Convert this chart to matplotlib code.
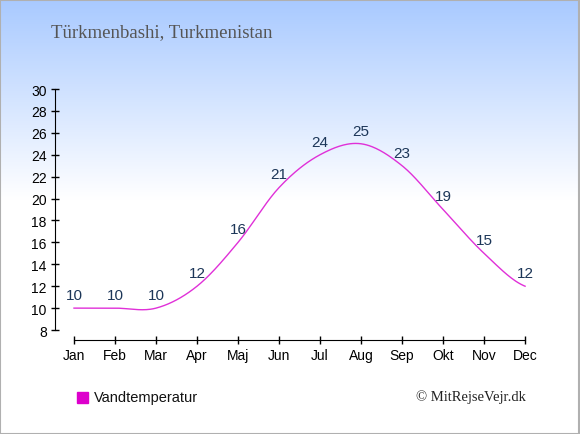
import numpy as np
import matplotlib
matplotlib.use("Agg")
import matplotlib.pyplot as plt
from matplotlib.patches import Rectangle

# data
months = ['Jan', 'Feb', 'Mar', 'Apr', 'Maj', 'Jun', 'Jul', 'Aug', 'Sep', 'Okt', 'Nov', 'Dec']
water_temp = [10, 10, 10, 12, 16, 21, 24, 25, 23, 19, 15, 12]
y_ticks = [8, 10, 12, 14, 16, 18, 20, 22, 24, 26, 28, 30]
title = 'Türkmenbashi, Turkmenistan'
legend_label = 'Vandtemperatur'
credit = '© MitRejseVejr.dk'

line_col = '#e030d8'
label_col = '#1c3658'
W, H = 580, 435


def catmull_rom(x, y, n=30):
    # smooth curve through the points (rendering only)
    x = np.asarray(x, float)
    y = np.asarray(y, float)
    px = np.concatenate([[2 * x[0] - x[1]], x, [2 * x[-1] - x[-2]]])
    py = np.concatenate([[y[0]], y, [y[-1]]])
    xs, ys = [], []
    for i in range(1, len(px) - 2):
        t = np.linspace(0, 1, n, endpoint=False)
        for p, out in ((px, xs), (py, ys)):
            p0, p1, p2, p3 = p[i - 1], p[i], p[i + 1], p[i + 2]
            out.append(0.5 * ((2 * p1) + (-p0 + p2) * t
                              + (2 * p0 - 5 * p1 + 4 * p2 - p3) * t ** 2
                              + (-p0 + 3 * p1 - 3 * p2 + p3) * t ** 3))
    xs.append([x[-1]])
    ys.append([y[-1]])
    return np.concatenate(xs), np.concatenate(ys)


fig = plt.figure(figsize=(W / 100, H / 100), dpi=100)

# background gradient
bg = fig.add_axes([0, 0, 1, 1])
bg.set_axis_off()
rows = np.linspace(0, 1, 400)
frac = np.clip(rows / 0.46, 0, 1)
top = np.array([0.66, 0.79, 1.0])
grad = top[None, :] * (1 - frac[:, None]) + np.ones(3)[None, :] * frac[:, None]
bg.imshow(grad[:, None, :], aspect='auto', extent=[0, 1, 0, 1], origin='upper')
bg.set_xlim(0, 1)
bg.set_ylim(0, 1)
bg.add_patch(Rectangle((0.0008, 0.001), 0.9975, 0.997, fill=False, edgecolor='#b0b0b0', lw=1.5))

ax = fig.add_axes([55 / W, 1 - 341 / H, 475 / W, 251 / H])
ax.patch.set_alpha(0)
x = np.arange(len(months))
sx, sy = catmull_rom(x, water_temp)
ax.plot(sx, sy, color=line_col, lw=1)
for xi, v in zip(x, water_temp):
    ax.text(xi, v + 1.2, str(v), ha='center', va='center', fontsize=11,
            color=label_col, family='Liberation Sans')

ax.set_xlim(-0.463, 11.12)
ax.set_ylim(7.09, 30)
ax.set_xticks(x)
ax.set_xticklabels(months)
ax.set_yticks(y_ticks)
for s in ('top', 'right'):
    ax.spines[s].set_visible(False)
ax.spines['left'].set_bounds(8, 30)
ax.spines['bottom'].set_bounds(0, 11)
ax.tick_params(direction='inout', length=6, width=1, labelsize=10, pad=3)
for lab in ax.get_xticklabels() + ax.get_yticklabels():
    lab.set_family('Liberation Sans')

fig.text(51 / W, 1 - 33 / H, title, fontsize=13.5, color='#555555',
         family='Liberation Serif', va='center', ha='left')

bg.add_patch(Rectangle((77 / W, 1 - 404 / H), 11 / W, 11 / H, color='#dd00cc'))
fig.text(94 / W, 1 - 398 / H, legend_label, fontsize=10.5, color='#111111',
         family='Liberation Sans', va='center', ha='left')
fig.text(526 / W, 1 - 397 / H, credit, fontsize=10.5, color='#222222',
         family='Liberation Serif', va='center', ha='right')

fig.savefig('out.png', dpi=100)
